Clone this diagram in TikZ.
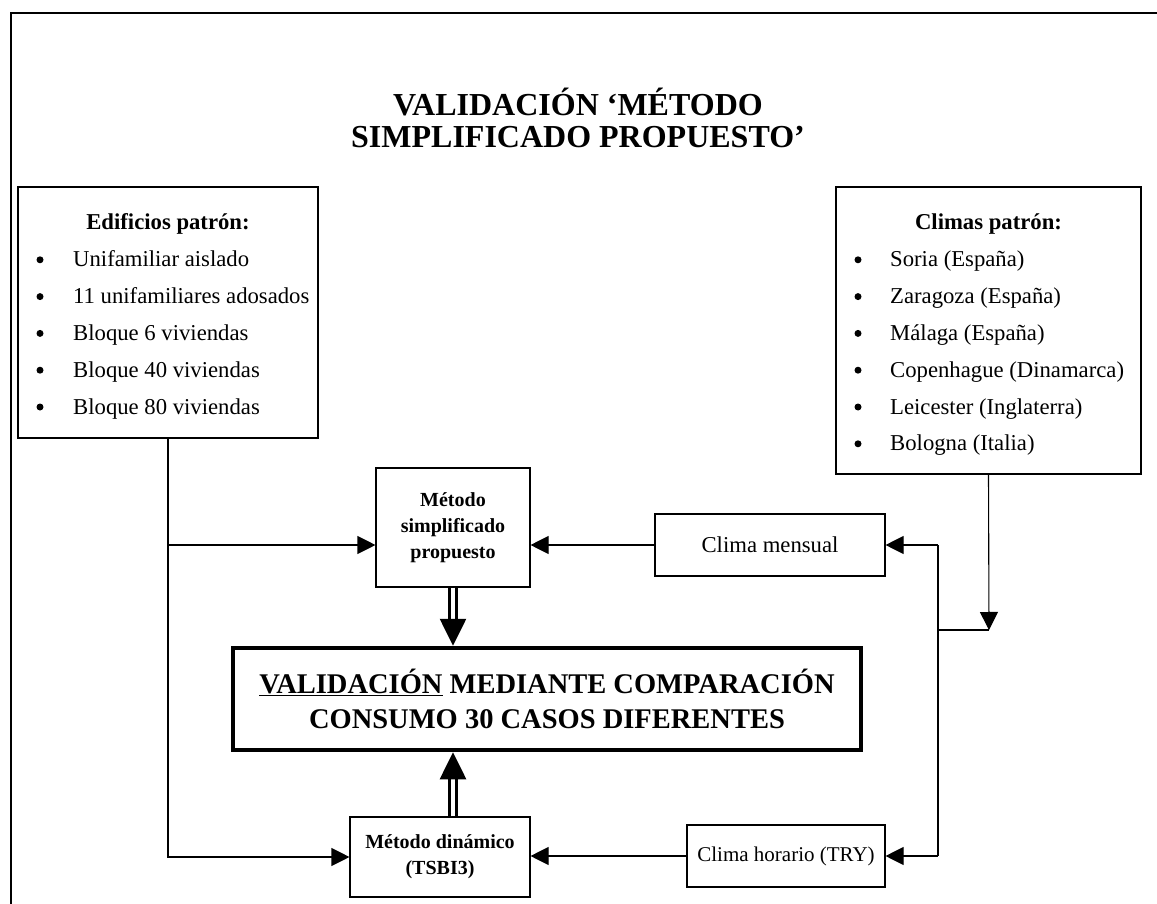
\documentclass[tikz,border=0pt]{standalone}
\usepackage{fontspec}
\setmainfont{Liberation Serif}
\usetikzlibrary{arrows.meta,calc}
\begin{document}
\begin{tikzpicture}[x=1pt,y=-1pt,
  box/.style={draw,line width=1.1pt,inner sep=0pt},
  body/.style={font=\fontsize{22.7}{27}\selectfont,inner sep=0pt},
  bodyb/.style={font=\fontsize{22.7}{27}\selectfont\bfseries,inner sep=0pt},
  dot/.style={circle,fill,inner sep=0pt,minimum size=7pt},
  meth/.style={box,align=center,font=\fontsize{20}{26}\selectfont\bfseries},
  conn/.style={line width=1.1pt},
  arr/.style={conn,-{Triangle[width=18pt,length=18pt]}},
  dbl/.style={double,line width=2.7pt,double distance=4pt,-{Triangle[width=26pt,length=27pt]}}]
\useasboundingbox (0,0) rectangle (1157,904);
\draw[line width=2.8pt] (11,904) -- (11,13) -- (1157,13);
% title
\node[font=\fontsize{32}{32}\selectfont\bfseries,align=center,inner sep=0pt] (title) at (578,118)
  {VALIDACIÓN ‘MÉTODO\\[0pt]SIMPLIFICADO PROPUESTO’};
% left box
\node[box,minimum width=300pt,minimum height=251pt] (lb) at (168,312.5) {};
\node[bodyb,anchor=base] (lbh) at (168,230) {Edificios patrón:};
\foreach \t [count=\i] in {Unifamiliar aislado,11 unifamiliares adosados,Bloque 6 viviendas,Bloque 40 viviendas,Bloque 80 viviendas}{
  \node[dot] (lbb\i) at (40,{230+36.8*\i-7}) {};
  \node[body,anchor=base west] (lbi\i) at (73,{230+36.8*\i}) {\t};
}
% right box
\node[box,minimum width=305pt,minimum height=287pt] (rb) at (988.5,330.5) {};
\node[bodyb,anchor=base] (rbh) at (988.5,230) {Climas patrón:};
\foreach \t [count=\i] in {Soria (España),Zaragoza (España),Málaga (España),Copenhague (Dinamarca),Leicester (Inglaterra),Bologna (Italia)}{
  \node[dot] (rbb\i) at (858,{230+36.8*\i-7}) {};
  \node[body,anchor=base west] (rbi\i) at (890,{230+36.8*\i}) {\t};
}
% methods
\node[meth,minimum width=154pt,minimum height=119pt] (ms) at (453,527.5) {Método\\simplificado\\propuesto};
\node[box,body,minimum width=230pt,minimum height=62pt] (cm) at (770,545) {Clima mensual};
\node[box,line width=4.5pt,minimum width=628pt,minimum height=102pt,align=center,
  font=\fontsize{28.5}{35}\selectfont\bfseries] (val) at (547,699)
  {\underline{VALIDACIÓN} MEDIANTE COMPARACIÓN\\CONSUMO 30 CASOS DIFERENTES};
\node[meth,minimum width=180pt,minimum height=80pt] (md) at (440,857) {Método dinámico\\(TSBI3)};
\node[box,font=\fontsize{21}{25}\selectfont,minimum width=198pt,minimum height=62pt] (ch) at (786,856) {Clima horario (TRY)};
% connectors
\coordinate (r1) at (938,545);
\coordinate (r2) at (938,856);
\coordinate (cj) at (989,630);
\draw[arr] (lb.south) |- (md.west);
\draw[arr] (lb.south |- cm.west) -- (ms.west |- cm.west);
\draw[arr] (cm.west) -- (ms.east |- cm.west);
\draw[arr] (r1) -- (cm.east);
\draw[arr] (r2) -- (ch.east);
\draw[arr] (ch.west) -- (md.east |- ch.west);
\draw[conn] (r1) -- (r2);
\draw[conn] (r1 |- cj) -- (cj);
\draw[arr] (rb.south) -- (cj);
\draw[dbl] (ms.south) -- (val.north -| ms.south);
\draw[dbl] (md.north -| ms.south) -- (val.south -| ms.south);
\end{tikzpicture}
\end{document}
